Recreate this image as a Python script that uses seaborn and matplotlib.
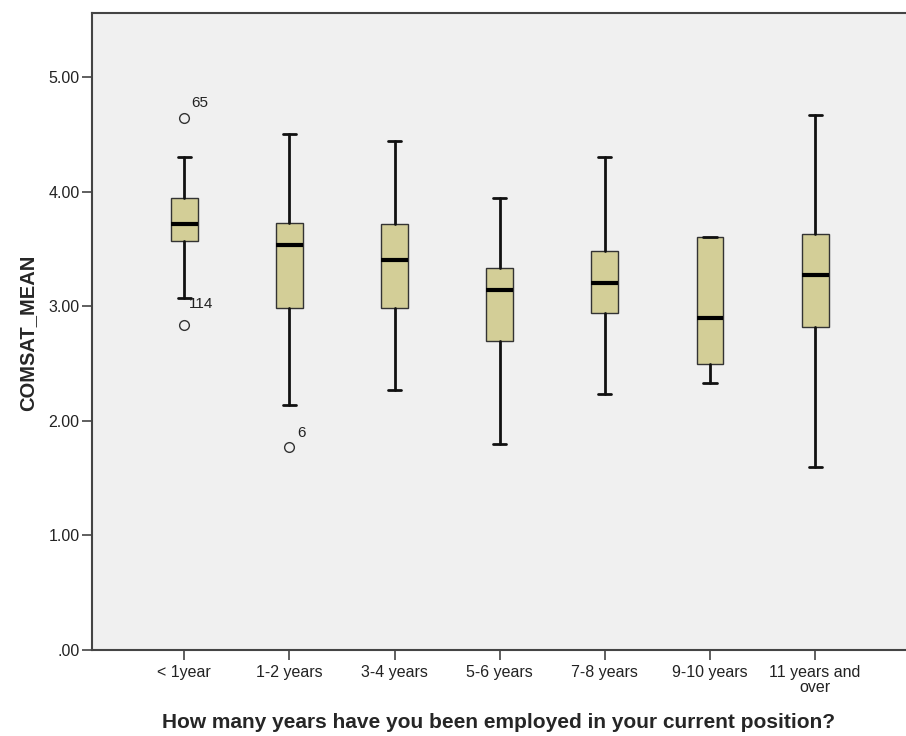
import matplotlib
matplotlib.use("Agg")
import matplotlib.pyplot as plt
import seaborn as sns

# Box summary for each tenure group
categories = ["< 1year", "1-2 years", "3-4 years", "5-6 years",
              "7-8 years", "9-10 years", "11 years and\nover"]
whisker_low = [3.07, 2.14, 2.27, 1.80, 2.23, 2.33, 1.60]
q1 = [3.57, 2.98, 2.98, 2.70, 2.94, 2.50, 2.82]
medians = [3.72, 3.53, 3.40, 3.14, 3.20, 2.90, 3.27]
q3 = [3.94, 3.73, 3.72, 3.33, 3.48, 3.60, 3.63]
whisker_high = [4.30, 4.50, 4.44, 3.94, 4.30, 3.60, 4.67]

# Outliers and their case numbers
outlier_group = [0, 0, 1]
outlier_values = [4.64, 2.84, 1.77]
outlier_ids = ["65", "114", "6"]

y_ticks = [0, 1, 2, 3, 4, 5]
y_tick_labels = [".00", "1.00", "2.00", "3.00", "4.00", "5.00"]


def main():
    sns.set_style("ticks", {"axes.facecolor": "#F0F0F0",
                            "axes.edgecolor": "#444444"})
    plt.rcParams["font.family"] = ["Liberation Sans", "DejaVu Sans"]

    fig = plt.figure(figsize=(9.06, 7.36), dpi=100)
    ax = fig.add_axes([0.1015, 0.1168, 0.905, 0.8655])

    stats = []
    for i, cat in enumerate(categories):
        fl = [v for g, v in zip(outlier_group, outlier_values) if g == i]
        stats.append(dict(label=cat, med=medians[i], q1=q1[i], q3=q3[i],
                          whislo=whisker_low[i], whishi=whisker_high[i],
                          fliers=fl))

    positions = list(range(len(categories)))
    ax.bxp(stats, positions=positions, widths=0.255, patch_artist=True,
           showfliers=True, capwidths=0.125,
           boxprops=dict(facecolor="#D3CE97", edgecolor="#333333", linewidth=1.0),
           medianprops=dict(color="black", linewidth=3.0),
           whiskerprops=dict(color="#111111", linewidth=2.0),
           capprops=dict(color="#111111", linewidth=2.0),
           flierprops=dict(marker="o", markersize=7, markerfacecolor="none",
                           markeredgecolor="#333333", markeredgewidth=1.0))

    # Case labels next to the outliers
    offsets = {"65": (7, 8), "114": (5, 14), "6": (8, 7)}
    for g, v, lab in zip(outlier_group, outlier_values, outlier_ids):
        ax.annotate(lab, (positions[g], v), xytext=offsets[lab],
                    textcoords="offset pixels", ha="left", va="bottom",
                    fontsize=11, color="#222222")

    ax.set_xlim(-0.877, 6.92)
    ax.set_ylim(0, 5.558)
    ax.set_yticks(y_ticks)
    ax.set_yticklabels(y_tick_labels)
    ax.set_xticks(positions)
    ax.set_xticklabels(categories, linespacing=1.0)
    ax.tick_params(axis="both", direction="out", length=7, width=1.2,
                   color="#444444", labelsize=11.5, labelcolor="#222222")
    ax.tick_params(axis="x", pad=4)
    ax.tick_params(axis="y", pad=2)

    ax.set_ylabel("COMSAT_MEAN", fontsize=14.5, fontweight="bold")
    ax.set_xlabel("How many years have you been employed in your current position?",
                  fontsize=15, fontweight="bold")
    ax.yaxis.set_label_coords(-0.067, 0.498)
    ax.xaxis.set_label_coords(0.496, -0.099)
    for s in ax.spines.values():
        s.set_linewidth(1.5)

    fig.savefig("out.png", dpi=100, facecolor="white")
    plt.close(fig)


if __name__ == "__main__":
    main()
